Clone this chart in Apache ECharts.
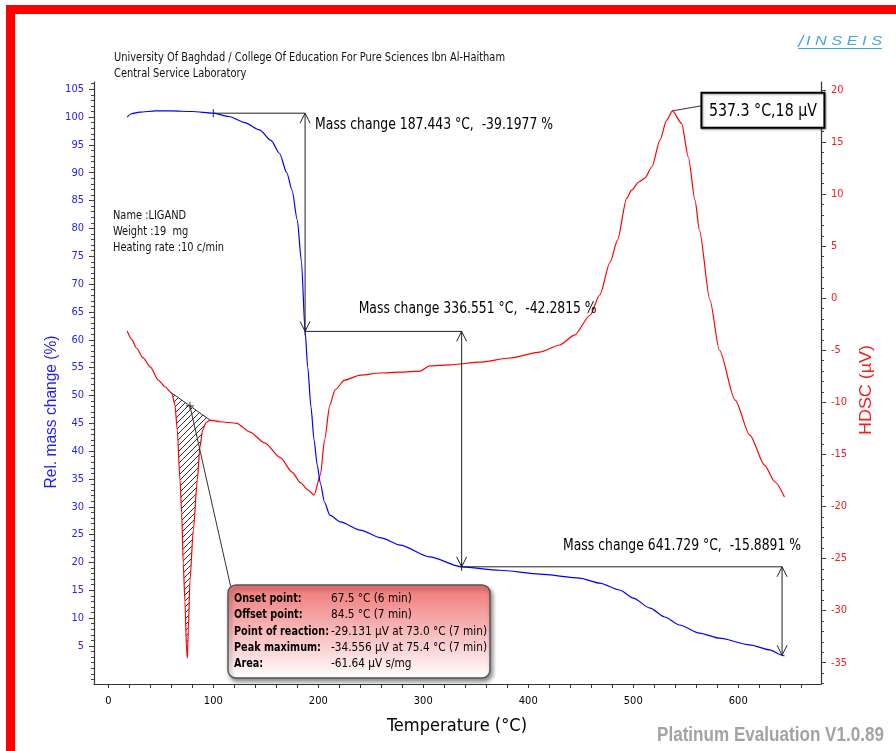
<!DOCTYPE html>
<html><head><meta charset="utf-8">
<script src="https://cdn.jsdelivr.net/npm/echarts@6/dist/echarts.min.js"></script>
<style>html,body{margin:0;padding:0;background:#fff;}#c{width:896px;height:751px;}</style>
</head><body><div id="c"></div>
<script>
// ---------------- data ----------------
const tgT = [18, 22, 30, 45, 60, 80, 100, 115, 130, 144, 155, 163, 170, 175, 180, 184, 187.443, 190, 193, 196, 199, 202, 206, 211, 221, 240, 260, 278, 306, 336.551, 373, 411, 449, 468, 487, 500, 516, 530, 544, 563, 582, 611, 630, 641.729, 644];
const tgM = [100.0, 100.6, 100.9, 101.1, 101.1, 101.0, 100.7, 100.1, 99.0, 97.7, 95.8, 93.5, 90.0, 86.9, 81.5, 74.0, 61.5, 55.0, 48.0, 42.0, 37.5, 34.2, 30.8, 28.5, 27.3, 25.8, 24.4, 23.1, 21.0, 19.22, 18.6, 17.9, 17.2, 16.3, 15.05, 13.6, 11.8, 10.2, 8.77, 7.3, 6.4, 5.2, 4.3, 3.33, 3.2];

const dscT = [18, 22, 27, 33, 40, 47.6, 54, 60.4, 63.5, 65.7, 68.3, 69.9, 71.4, 73.0, 74.7, 75.4, 76.2, 77.8, 81.0, 84.8, 87.3, 89.9, 93.0, 96.9, 106.4, 122.3, 135, 149, 164, 175, 183, 190, 196, 202, 206, 211, 216, 225, 240, 259, 278, 297, 306, 325, 354, 382, 411, 430, 444, 459, 468, 478, 485, 493.7, 498.5, 505.4, 511, 517.8, 525.4, 531.8, 537.3, 546, 552.4, 558.8, 563, 573, 582, 597, 611, 625, 635, 644];
const dscV = [-3.15, -3.9, -4.8, -5.7, -6.6, -7.86, -8.5, -9.10, -10.26, -12.66, -17.46, -20.63, -25.43, -29.13, -34.07, -34.556, -31.86, -27.06, -22.26, -17.46, -14.26, -12.66, -11.96, -11.70, -11.86, -12.01, -12.85, -13.9, -15.3, -16.7, -17.7, -18.4, -18.9, -16.98, -13.6, -10.26, -8.8, -7.86, -7.38, -7.18, -7.09, -6.99, -6.5, -6.4, -6.13, -5.74, -5.17, -4.49, -3.54, -1.61, 0.31, 3.48, 5.59, 9.6, 10.39, 11.19, 11.54, 12.63, 15.19, 17.11, 18, 16.8, 13.59, 9.43, 6.55, -0.17, -4.97, -9.78, -13.14, -16.02, -17.65, -19.09];

const stepT = [100, 187.443, 336.551, 641.729];
const stepLevel = [100.7, 61.5023, 19.2208, 3.3317];
const stepLabels = ['Mass change 187.443 \u00B0C,  -39.1977 %', 'Mass change 336.551 \u00B0C,  -42.2815 %', 'Mass change 641.729 \u00B0C,  -15.8891 %'];

const peakT = [537.3];
const peakV = [18];
const peakLabel = '537.3 \u00B0C,18 \u00B5V';

const hatchRange = [60.4, 96.9];
const reactionMarkT = [77.8];

const xTickLabels = [0, 100, 200, 300, 400, 500, 600];
const leftTickLabels = [5, 10, 15, 20, 25, 30, 35, 40, 45, 50, 55, 60, 65, 70, 75, 80, 85, 90, 95, 100, 105];
const rightTickLabels = [-35, -30, -25, -20, -15, -10, -5, 0, 5, 10, 15, 20];

const infoLabels = ['Onset point:', 'Offset point:', 'Point of reaction:', 'Peak maximum:', 'Area:'];
const infoValues = ['67.5 \u00B0C (6 min)', '84.5 \u00B0C (7 min)', '-29.131 \u00B5V at 73.0 \u00B0C (7 min)', '-34.556 \u00B5V at 75.4 \u00B0C (7 min)', '-61.64 \u00B5V s/mg'];
const sampleInfo = ['Name :LIGAND', 'Weight :19  mg', 'Heating rate :10 c/min'];
const headerLines = ['University Of Baghdad / College Of Education For Pure Sciences Ibn Al-Haitham', 'Central Service Laboratory'];

// ---------------- styling ----------------
const COND = "'DejaVu Sans Condensed',sans-serif";
const SANS = "'Liberation Sans',Arial,sans-serif";
const X_MIN = -13.6, X_MAX = 678.8;
const L_MIN = -1.83, L_MAX = 106.3;
const R_MIN = -37.05, R_MAX = 20.77;

function range(a, b, s) { const r = []; for (let v = a; v <= b + 1e-9; v += s) r.push(Math.round(v * 100) / 100); return r; }
const mctx = document.createElement('canvas').getContext('2d');
function fit(text, font, w) { mctx.font = font; return w / mctx.measureText(text).width; }

// hatch pattern
const pc = document.createElement('canvas');
pc.width = 6; pc.height = 6;
const pctx = pc.getContext('2d');
pctx.strokeStyle = '#333'; pctx.lineWidth = 1;
pctx.beginPath();
pctx.moveTo(0, 6); pctx.lineTo(6, 0);
pctx.moveTo(-1, 1); pctx.lineTo(1, -1);
pctx.moveTo(5, 7); pctx.lineTo(7, 5);
pctx.stroke();

function baselineAt(t) {
  const i0 = dscT.indexOf(hatchRange[0]), i1 = dscT.indexOf(hatchRange[1]);
  const v0 = dscV[i0], v1 = dscV[i1];
  return v0 + (v1 - v0) * (t - hatchRange[0]) / (hatchRange[1] - hatchRange[0]);
}

function renderHatch(params, api) {
  const pts = [];
  dscT.forEach((t, i) => { if (t >= hatchRange[0] && t <= hatchRange[1]) pts.push(api.coord([t, dscV[i]])); });
  return {
    type: 'group', children: [
      { type: 'polygon', shape: { points: pts }, style: { fill: { type: 'pattern', image: pc, repeat: 'repeat' }, stroke: null } },
      { type: 'line', shape: { x1: pts[0][0], y1: pts[0][1], x2: pts[pts.length - 1][0], y2: pts[pts.length - 1][1] }, style: { stroke: '#333', lineWidth: 1 } }
    ]
  };
}

const STEP_FONT = '15px ' + COND;
const stepScale = fit(stepLabels[0], STEP_FONT, 238);
const labelOffset = [[10, 12], [-103, -22], [-219, -21]];
function renderSteps(params, api) {
  const i = params.dataIndex;
  const a = api.coord([stepT[i], stepLevel[i]]);
  const b = api.coord([stepT[i + 1], stepLevel[i]]);
  const c = api.coord([stepT[i + 1], stepLevel[i + 1]]);
  const st = { stroke: '#222', lineWidth: 1 };
  const ah = { stroke: '#222', lineWidth: 1, fill: null };
  return {
    type: 'group', children: [
      { type: 'line', shape: { x1: a[0], y1: a[1], x2: b[0], y2: b[1] }, style: st },
      { type: 'line', shape: { x1: a[0], y1: a[1] - 4, x2: a[0], y2: a[1] + 4 }, style: st },
      { type: 'line', shape: { x1: b[0], y1: b[1], x2: c[0], y2: c[1] }, style: st },
      { type: 'polyline', shape: { points: [[b[0] - 5, b[1] + 10], [b[0], b[1]], [b[0] + 5, b[1] + 10]] }, style: ah },
      { type: 'polyline', shape: { points: [[c[0] - 5, c[1] - 10], [c[0], c[1]], [c[0] + 5, c[1] - 10]] }, style: ah },
      { type: 'text', x: b[0] + labelOffset[i][0], y: b[1] + labelOffset[i][1], scaleX: stepScale, style: { text: stepLabels[i], fill: '#000', font: STEP_FONT, verticalAlign: 'middle' } }
    ]
  };
}

const PEAK_FONT = '18px ' + COND;
function renderPeak(params, api) {
  const p = api.coord([peakT[0], peakV[0]]);
  const bx = p[0] + 29, by = p[1] - 18, bw = 123, bh = 35;
  return {
    type: 'group', children: [
      { type: 'line', shape: { x1: p[0], y1: p[1], x2: bx, y2: p[1] - 5 }, style: { stroke: '#333', lineWidth: 1 } },
      { type: 'rect', shape: { x: bx, y: by, width: bw, height: bh }, style: { fill: '#fff', stroke: '#000', lineWidth: 2, shadowBlur: 2, shadowOffsetX: 1, shadowOffsetY: 1, shadowColor: 'rgba(0,0,0,0.35)' } },
      { type: 'text', x: bx + bw / 2, y: by + bh / 2 + 1, scaleX: fit(peakLabel, PEAK_FONT, 108), style: { text: peakLabel, fill: '#000', font: PEAK_FONT, align: 'center', verticalAlign: 'middle' } }
    ]
  };
}

const INFO_BOLD = 'bold 12px ' + COND, INFO_REG = '12px ' + COND;
const infoLabelScale = fit(infoLabels[2], INFO_BOLD, 95);
const infoValueScale = fit(infoValues[2], INFO_REG, 156);
function renderInfo(params, api) {
  const t = reactionMarkT[0];
  const p = api.coord([t, baselineAt(t)]);
  const bx = 228, by = 585, bw = 262, bh = 93;
  const children = [
    { type: 'line', shape: { x1: p[0], y1: p[1], x2: bx + 3, y2: by + 3 }, style: { stroke: '#333', lineWidth: 1 } },
    { type: 'line', shape: { x1: p[0] - 4, y1: p[1], x2: p[0] + 4, y2: p[1] }, style: { stroke: '#333', lineWidth: 1 } },
    { type: 'line', shape: { x1: p[0], y1: p[1] - 4, x2: p[0], y2: p[1] + 4 }, style: { stroke: '#333', lineWidth: 1 } },
    { type: 'rect', shape: { x: bx, y: by, width: bw, height: bh, r: 8 }, style: { fill: { type: 'linear', x: 0, y: 0, x2: 0, y2: 1, colorStops: [{ offset: 0, color: '#f07575' }, { offset: 1, color: '#ffffff' }] }, stroke: '#555', lineWidth: 1.5, shadowBlur: 4, shadowOffsetX: 2, shadowOffsetY: 3, shadowColor: 'rgba(0,0,0,0.45)' } }
  ];
  infoLabels.forEach((l, k) => {
    children.push({ type: 'text', x: bx + 6, y: by + 14 + k * 16.2, scaleX: infoLabelScale, style: { text: l, fill: '#000', font: INFO_BOLD, verticalAlign: 'middle' } });
    children.push({ type: 'text', x: bx + 103, y: by + 14 + k * 16.2, scaleX: infoValueScale, style: { text: infoValues[k], fill: '#000', font: INFO_REG, verticalAlign: 'middle' } });
  });
  return { type: 'group', children };
}

const chart = echarts.init(document.getElementById('c'), null, { renderer: 'canvas' });
const axLine = { show: true, onZero: false, lineStyle: { color: '#333', width: 1.2 } };
const noLine = { show: false, onZero: false };

const HDR_FONT = '12px ' + COND;
const hdrScale = fit(headerLines[0], HDR_FONT, 391);
const INFO_FONT = '12px ' + COND;
const sampleScale = fit(sampleInfo[2], INFO_FONT, 111);
const TEMP_FONT = '17px ' + COND;
const REL_FONT = '16px ' + SANS;
const HDSC_FONT = '17px ' + SANS;
const PLAT_FONT = 'bold 20px ' + SANS;
const LOGO_FONT = 'italic 13px ' + SANS;

const option = {
  animation: false,
  backgroundColor: '#fff',
  grid: { left: 94, right: 75, top: 82, bottom: 67, containLabel: false, outerBoundsMode: 'none' },
  xAxis: [{
    type: 'value', min: X_MIN, max: X_MAX, position: 'bottom',
    axisLine: axLine,
    axisTick: { show: true, customValues: range(0, 660, 20), length: 4, lineStyle: { color: '#333' } },
    axisLabel: { customValues: xTickLabels, color: '#000', fontSize: 11, fontFamily: COND, margin: 12 },
    splitLine: { show: false }
  }],
  yAxis: [
    {
      type: 'value', min: L_MIN, max: L_MAX, position: 'left',
      axisLine: axLine,
      axisTick: { show: true, customValues: leftTickLabels, length: 5, lineStyle: { color: '#333' } },
      axisLabel: { customValues: leftTickLabels, color: '#2424f0', fontSize: 11, fontFamily: COND, margin: 10 },
      splitLine: { show: false }
    },
    {
      type: 'value', min: R_MIN, max: R_MAX, position: 'right',
      axisLine: axLine,
      axisTick: { show: true, customValues: rightTickLabels, length: 5, lineStyle: { color: '#333' } },
      axisLabel: { customValues: rightTickLabels, color: '#f42020', fontSize: 11, fontFamily: COND, margin: 10 },
      splitLine: { show: false }
    },
    {
      type: 'value', min: L_MIN, max: L_MAX, position: 'left', offset: 0,
      axisLine: noLine, axisLabel: { show: false }, splitLine: { show: false },
      axisTick: { show: true, customValues: range(-1, 106, 1), length: 3, lineStyle: { color: '#444' } }
    },
    {
      type: 'value', min: R_MIN, max: R_MAX, position: 'right', offset: 0,
      axisLine: noLine, axisLabel: { show: false }, splitLine: { show: false },
      axisTick: { show: true, customValues: range(-37, 20, 1), length: 3, lineStyle: { color: '#444' } }
    }
  ],
  series: [
    { type: 'custom', xAxisIndex: 0, yAxisIndex: 1, renderItem: renderHatch, data: [[hatchRange[0], dscV[dscT.indexOf(hatchRange[0])]]], z: 2, silent: true, clip: false },
    { type: 'line', xAxisIndex: 0, yAxisIndex: 1, data: dscT.map((t, i) => [t, dscV[i]]), showSymbol: false, smooth: 0.25, smoothMonotone: 'x', lineStyle: { color: '#ff0000', width: 1.2 }, z: 3, silent: true },
    { type: 'line', xAxisIndex: 0, yAxisIndex: 0, data: tgT.map((t, i) => [t, tgM[i]]), showSymbol: false, smooth: 0.25, smoothMonotone: 'x', lineStyle: { color: '#0000ff', width: 1.2 }, z: 3, silent: true },
    { type: 'custom', xAxisIndex: 0, yAxisIndex: 0, renderItem: renderSteps, data: [[stepT[1], stepLevel[0]], [stepT[2], stepLevel[1]], [stepT[3], stepLevel[2]]], z: 4, silent: true, clip: false },
    { type: 'custom', xAxisIndex: 0, yAxisIndex: 1, renderItem: renderPeak, data: [[peakT[0], peakV[0]]], z: 6, silent: true, clip: false },
    { type: 'custom', xAxisIndex: 0, yAxisIndex: 1, renderItem: renderInfo, data: [[reactionMarkT[0], baselineAt(reactionMarkT[0])]], z: 6, silent: true, clip: false }
  ],
  graphic: [
    { type: 'rect', shape: { x: 6, y: 5, width: 890, height: 9 }, style: { fill: '#ff0000' }, z: 100 },
    { type: 'rect', shape: { x: 6, y: 5, width: 9, height: 746 }, style: { fill: '#ff0000' }, z: 100 },
    { type: 'text', x: 114, y: 58, scaleX: hdrScale, style: { text: headerLines[0], font: HDR_FONT, fill: '#111', verticalAlign: 'middle' } },
    { type: 'text', x: 114, y: 74, scaleX: hdrScale, style: { text: headerLines[1], font: HDR_FONT, fill: '#111', verticalAlign: 'middle' } },
    { type: 'text', x: 113, y: 216, scaleX: sampleScale, style: { text: sampleInfo[0], font: INFO_FONT, fill: '#111', verticalAlign: 'middle' } },
    { type: 'text', x: 113, y: 232, scaleX: sampleScale, style: { text: sampleInfo[1], font: INFO_FONT, fill: '#111', verticalAlign: 'middle' } },
    { type: 'text', x: 113, y: 248, scaleX: sampleScale, style: { text: sampleInfo[2], font: INFO_FONT, fill: '#111', verticalAlign: 'middle' } },
    { type: 'text', x: 806, y: 41, scaleX: fit('I N S E I S', LOGO_FONT, 76), style: { text: 'I N S E I S', font: LOGO_FONT, fill: '#4aa3d8', verticalAlign: 'middle' } },
    { type: 'line', shape: { x1: 798, y1: 47, x2: 804, y2: 35 }, style: { stroke: '#4aa3d8', lineWidth: 1.4 } },
    { type: 'line', shape: { x1: 798, y1: 48.5, x2: 882, y2: 48.5 }, style: { stroke: '#4aa3d8', lineWidth: 1 } },
    { type: 'text', x: 52, y: 412, rotation: Math.PI / 2, scaleX: fit('Rel. mass change (%)', REL_FONT, 153), style: { text: 'Rel. mass change (%)', font: REL_FONT, fill: '#1e1ef5', align: 'center', verticalAlign: 'middle' } },
    { type: 'text', x: 866, y: 390, rotation: Math.PI / 2, scaleX: fit('HDSC (\u00B5V)', HDSC_FONT, 90), style: { text: 'HDSC (\u00B5V)', font: HDSC_FONT, fill: '#f41f1f', align: 'center', verticalAlign: 'middle' } },
    { type: 'text', x: 457, y: 727, scaleX: fit('Temperature (\u00B0C)', TEMP_FONT, 140), style: { text: 'Temperature (\u00B0C)', font: TEMP_FONT, fill: '#000', align: 'center', verticalAlign: 'middle' } },
    { type: 'text', x: 884, y: 735, scaleX: fit('Platinum Evaluation V1.0.89', PLAT_FONT, 227), style: { text: 'Platinum Evaluation V1.0.89', font: PLAT_FONT, fill: '#a3a3a3', align: 'right', verticalAlign: 'middle' } }
  ]
};
chart.setOption(option);
</script>
</body></html>
